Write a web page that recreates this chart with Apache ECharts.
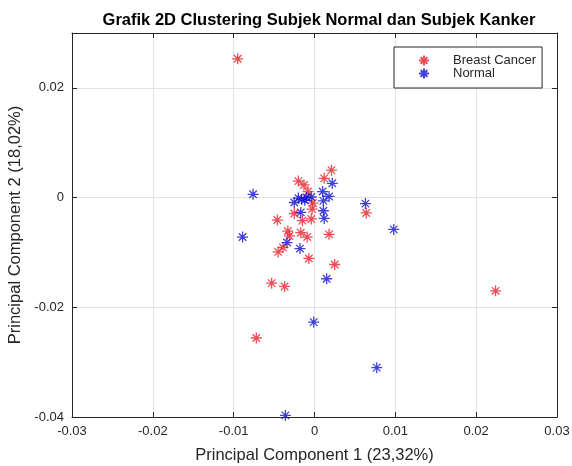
<!DOCTYPE html>
<html>
<head>
<meta charset="utf-8">
<script src="https://cdn.jsdelivr.net/npm/echarts@6/dist/echarts.min.js"></script>
<style>
  html, body { margin: 0; padding: 0; background: #fff; }
  #chart { width: 572px; height: 466px; }
</style>
</head>
<body>
<div id="chart"></div>
<script>
// PCA scores: [PC1, PC2] for each subject
const breastCancerPoints = [
  [-0.0095, 0.0253], [0.0021, 0.0050], [0.0012, 0.0035], [-0.0020, 0.0030],
  [-0.0013, 0.0023], [-0.0008, 0.0011], [-0.0003, -0.0021], [-0.0025, -0.0029],
  [-0.0015, -0.0042], [-0.0004, -0.0039], [-0.0046, -0.0041], [0.0064, -0.0028],
  [-0.0033, -0.0061], [-0.0031, -0.0070], [-0.0017, -0.0064], [-0.0009, -0.0072],
  [0.0018, -0.0067], [-0.0039, -0.0091], [-0.0045, -0.0099], [-0.0007, -0.0111],
  [0.0025, -0.0122], [-0.0053, -0.0156], [-0.0037, -0.0162], [0.0224, -0.0170],
  [-0.0072, -0.0256], [-0.0002, -0.0010]
];
const normalPoints = [
  [-0.0076, 0.0006], [-0.0089, -0.0072], [0.0098, -0.0058], [0.0063, -0.0011],
  [0.0022, 0.0026], [0.0010, 0.0011], [-0.0025, -0.0009], [-0.0016, -0.0003],
  [-0.0010, 0.0000], [-0.0004, 0.0001], [-0.0012, -0.0005], [-0.0020, -0.0001],
  [0.0018, 0.0002], [0.0011, -0.0006], [0.0011, -0.0024], [0.0012, -0.0038],
  [-0.0017, -0.0027], [-0.0034, -0.0082], [-0.0018, -0.0093], [0.0015, -0.0148],
  [-0.0001, -0.0227], [0.0077, -0.0310], [-0.0036, -0.0397]
];
const seriesNames = ['Breast Cancer', 'Normal'];
const xRange = { min: -0.03, max: 0.03, interval: 0.01 };
const yRange = { min: -0.04, max: 0.03, interval: 0.02 };

// eight-armed asterisk marker
const asterisk = 'path://M0,5L10,5M5,0L5,10M1.6,1.6L8.4,8.4M1.6,8.4L8.4,1.6';
const ink = '#262626';
const font = 'Liberation Sans, Arial, sans-serif';

function fmt(v) {
  if (Math.abs(v) < 1e-12) return '0';
  return String(Math.round(v * 100) / 100);
}

const gridLine = { show: true, lineStyle: { color: '#e3e3e3', width: 1 } };

function mainAxis(range, extra) {
  return Object.assign({
    type: 'value',
    min: range.min, max: range.max, interval: range.interval,
    axisLine: { show: true, onZero: false, lineStyle: { color: ink, width: 1 } },
    axisTick: { show: true, inside: true, length: 5, lineStyle: { color: ink } },
    axisLabel: { color: ink, fontSize: 13, fontFamily: font, formatter: fmt },
    splitLine: gridLine,
    nameTextStyle: { color: ink, fontSize: 16.5, fontFamily: font }
  }, extra);
}

function mirrorAxis(range, pos) {
  return {
    type: 'value', position: pos,
    min: range.min, max: range.max, interval: range.interval,
    axisLine: { show: true, onZero: false, lineStyle: { color: ink, width: 1 } },
    axisTick: { show: true, inside: true, length: 5, lineStyle: { color: ink } },
    axisLabel: { show: false },
    splitLine: { show: false }
  };
}

const chart = echarts.init(document.getElementById('chart'), null, { renderer: 'canvas' });
chart.setOption({
  animation: false,
  backgroundColor: '#ffffff',
  title: {
    text: 'Grafik 2D Clustering Subjek Normal dan Subjek Kanker',
    left: 314, top: 7, textAlign: 'center',
    textStyle: { fontSize: 16.5, fontWeight: 'bold', color: '#000', fontFamily: font }
  },
  grid: { left: 72, right: 15, top: 33, bottom: 49, containLabel: false, outerBoundsMode: 'none' },
  legend: {
    orient: 'vertical',
    left: 394, top: 47,
    padding: [7, 6, 8, 24],
    itemGap: 0,
    itemWidth: 10, itemHeight: 10,
    backgroundColor: '#fff',
    borderColor: ink, borderWidth: 1,
    textStyle: { color: ink, fontSize: 13, fontFamily: font, padding: [0, 0, 0, 19] },
    data: seriesNames
  },
  xAxis: [
    mainAxis(xRange, {
      position: 'bottom',
      name: 'Principal Component 1 (23,32%)',
      nameLocation: 'middle', nameGap: 30
    }),
    mirrorAxis(xRange, 'top')
  ],
  yAxis: [
    mainAxis(yRange, {
      position: 'left',
      name: 'Principal Component 2 (18,02%)',
      nameLocation: 'middle', nameGap: 43,
      axisLabel: { color: ink, fontSize: 13, fontFamily: font, formatter: fmt, showMaxLabel: false }
    }),
    mirrorAxis(yRange, 'right')
  ],
  series: [
    {
      name: seriesNames[0], type: 'scatter',
      symbol: asterisk, symbolSize: 11,
      itemStyle: { color: 'transparent', borderColor: '#e8202a', borderWidth: 1.3 },
      data: breastCancerPoints
    },
    {
      name: seriesNames[1], type: 'scatter',
      symbol: asterisk, symbolSize: 11,
      itemStyle: { color: 'transparent', borderColor: '#1212d0', borderWidth: 1.3 },
      data: normalPoints
    }
  ]
});
</script>
</body>
</html>
